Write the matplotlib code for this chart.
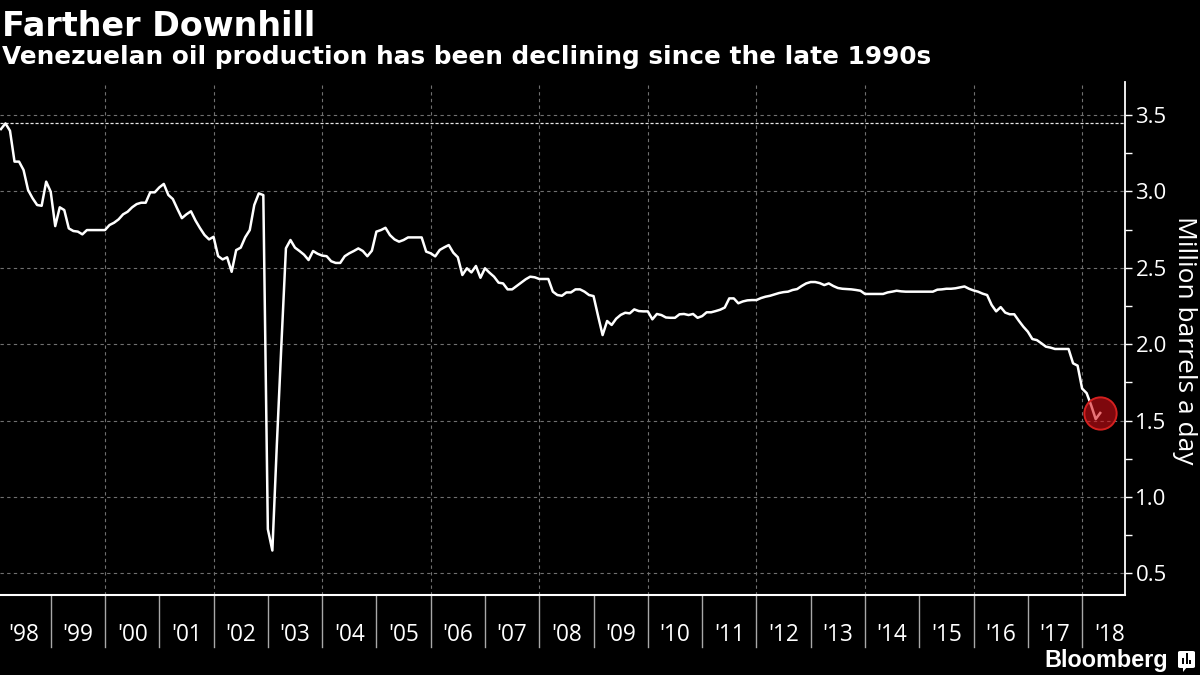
import matplotlib
matplotlib.use('Agg')
import matplotlib.pyplot as plt
import numpy as np
from matplotlib.transforms import blended_transform_factory
from matplotlib.patches import FancyBboxPatch, Rectangle, Polygon

# ---------------- data ----------------
start_year = 1998  # monthly values, Jan 1998 - Apr 2018 (million barrels a day)
production = [
    # 1998
    3.408, 3.445, 3.397, 3.195, 3.195, 3.140, 3.009, 2.955, 2.911, 2.906, 3.064, 2.998,
    # 1999
    2.773, 2.896, 2.878, 2.758, 2.741, 2.737, 2.719, 2.747, 2.747, 2.747, 2.747, 2.747,
    # 2000
    2.780, 2.795, 2.817, 2.850, 2.867, 2.896, 2.917, 2.926, 2.926, 2.994, 2.994, 3.026,
    # 2001
    3.049, 2.977, 2.950, 2.886, 2.825, 2.850, 2.870, 2.810, 2.760, 2.715, 2.686, 2.703,
    # 2002
    2.577, 2.555, 2.569, 2.474, 2.616, 2.632, 2.700, 2.747, 2.911, 2.987, 2.976, 0.790,
    # 2003
    0.650, 1.350, 2.000, 2.628, 2.682, 2.632, 2.610, 2.586, 2.551, 2.610, 2.592, 2.580,
    # 2004
    2.576, 2.543, 2.532, 2.532, 2.576, 2.595, 2.610, 2.627, 2.610, 2.576, 2.612, 2.737,
    # 2005
    2.747, 2.762, 2.714, 2.686, 2.671, 2.682, 2.699, 2.699, 2.699, 2.699, 2.606, 2.595,
    # 2006
    2.575, 2.617, 2.634, 2.649, 2.599, 2.569, 2.453, 2.497, 2.470, 2.512, 2.435, 2.497,
    # 2007
    2.468, 2.442, 2.403, 2.398, 2.359, 2.359, 2.381, 2.403, 2.425, 2.442, 2.438, 2.427,
    # 2008
    2.427, 2.427, 2.344, 2.322, 2.317, 2.339, 2.339, 2.359, 2.359, 2.344, 2.322, 2.315,
    # 2009
    2.185, 2.060, 2.152, 2.126, 2.167, 2.192, 2.206, 2.202, 2.228, 2.217, 2.215, 2.215,
    # 2010
    2.163, 2.198, 2.191, 2.175, 2.173, 2.173, 2.196, 2.198, 2.191, 2.198, 2.173, 2.184,
    # 2011
    2.209, 2.209, 2.217, 2.226, 2.240, 2.300, 2.300, 2.268, 2.280, 2.287, 2.289, 2.289,
    # 2012
    2.302, 2.311, 2.317, 2.326, 2.335, 2.341, 2.344, 2.355, 2.361, 2.381, 2.398, 2.407,
    # 2013
    2.407, 2.400, 2.387, 2.398, 2.381, 2.368, 2.363, 2.361, 2.359, 2.355, 2.350, 2.329,
    # 2014
    2.329, 2.329, 2.329, 2.329, 2.339, 2.344, 2.350, 2.346, 2.344, 2.344, 2.344, 2.344,
    # 2015
    2.344, 2.344, 2.344, 2.357, 2.359, 2.363, 2.363, 2.366, 2.372, 2.378, 2.363, 2.352,
    # 2016
    2.344, 2.331, 2.322, 2.257, 2.215, 2.243, 2.207, 2.196, 2.196, 2.154, 2.115, 2.082,
    # 2017
    2.034, 2.027, 2.006, 1.984, 1.978, 1.969, 1.969, 1.969, 1.969, 1.875, 1.860, 1.710,
    # 2018
    1.680, 1.600, 1.510, 1.550,
]
years = list(range(1998, 2019))
year_labels = ["'%02d" % (y % 100) for y in years]
grid_years = list(range(2000, 2019, 2))
y_ticks = [0.5, 1.0, 1.5, 2.0, 2.5, 3.0, 3.5]
y_tick_labels = ['0.5', '1.0', '1.5', '2.0', '2.5', '3.0', '3.5']
y_minor = [0.75, 1.25, 1.75, 2.25, 2.75, 3.25]

title = 'Farther Downhill'
subtitle = 'Venezuelan oil production has been declining since the late 1990s'
y_label = 'Million barrels a day'

# ---------------- figure ----------------
W, H = 1200, 675
fig = plt.figure(figsize=(12, 6.75), dpi=100, facecolor='black')
ax = fig.add_axes([0, 1 - 595 / H, 1125 / W, 513 / H])
ax.set_facecolor('black')

t = start_year + (np.arange(len(production)) + 1) / 12.0
ax.set_xlim(1998.066, 2018.79)
ax.set_ylim(0.359, 3.716)

grid_col = '#707070'
for gy in grid_years:
    ax.axvline(gy, color=grid_col, lw=0.8, ls=(0, (3, 3)), zorder=1)
for yt in y_ticks:
    ax.axhline(yt, color=grid_col, lw=0.8, ls=(0, (3, 3)), zorder=1)
ax.axhline(max(production), color='#e6e6e6', lw=0.9, ls=(0, (2.5, 1.5)), zorder=1)

ax.plot(t, production, color='white', lw=1.8, zorder=3, solid_joinstyle='round')
ax.scatter([t[-1]], [production[-1]], s=540,
           facecolor=(0.86, 0.06, 0.09, 0.58),
           edgecolor='#d3201f', linewidth=1.4, zorder=4)

# spines
for s in ['top', 'left']:
    ax.spines[s].set_visible(False)
ax.spines['right'].set_color('white')
ax.spines['right'].set_linewidth(1.3)
ax.spines['bottom'].set_color('white')
ax.spines['bottom'].set_linewidth(1.5)

# y ticks on the right
ax.yaxis.tick_right()
ax.set_yticks(y_ticks)
ax.set_yticklabels(y_tick_labels)
ax.set_yticks(y_minor, minor=True)
ax.tick_params(axis='y', which='both', colors='white', length=5, width=1.0,
               direction='out', pad=2.5)
ax.tick_params(axis='y', which='major', labelsize=16, labelcolor='white')
for lab in ax.get_yticklabels():
    lab.set_family('Open Sans')

# x axis: year separators and centred labels
ax.set_xticks([])
trans = blended_transform_factory(ax.transData, ax.transAxes)
for y in years[1:]:
    ax.plot([y, y], [0, -0.101], transform=trans, color='#a8a8a8', lw=1.0,
            clip_on=False, zorder=2)
for y, lab in zip(years, year_labels):
    ax.text(y + 0.5, -0.077, lab, transform=trans, ha='center', va='center',
            color='white', fontsize=16.3, family='Open Sans', clip_on=False)

# titles
fig.text(2 / W, 1 - 36 / H, title, color='white', fontsize=24,
         fontweight='bold', family='DejaVu Sans', va='baseline', ha='left')
fig.text(2 / W, 1 - 64 / H, subtitle, color='white', fontsize=17.8,
         fontweight='bold', family='DejaVu Sans', va='baseline', ha='left')

fig.text(1185 / W, 1 - 340 / H, y_label, color='white', fontsize=19,
         family='Open Sans', rotation=270, ha='center', va='center')

# Bloomberg logo
fig.text(1168 / W, 1 - 667 / H, 'Bloomberg', color='white', fontsize=16.8,
         fontweight='bold', family='Liberation Sans', ha='right', va='baseline')
icon = FancyBboxPatch((1178 / W, 1 - 668 / H), 17 / W, 17 / H,
                      boxstyle='round,pad=0,rounding_size=0.002',
                      transform=fig.transFigure, facecolor='white',
                      edgecolor='none')
fig.patches.append(icon)
fig.patches.append(Polygon([(1183 / W, 1 - 667 / H), (1187 / W, 1 - 667 / H),
                            (1183 / W, 1 - 672 / H)], closed=True,
                           transform=fig.transFigure, facecolor='white',
                           edgecolor='none'))
for bx, bh in [(1182, 6), (1185.5, 11), (1189, 4)]:
    fig.patches.append(Rectangle((bx / W, 1 - 664 / H), 2 / W, bh / H,
                                 transform=fig.transFigure, facecolor='black',
                                 edgecolor='none'))

fig.savefig('out.png', dpi=100, facecolor='black')
